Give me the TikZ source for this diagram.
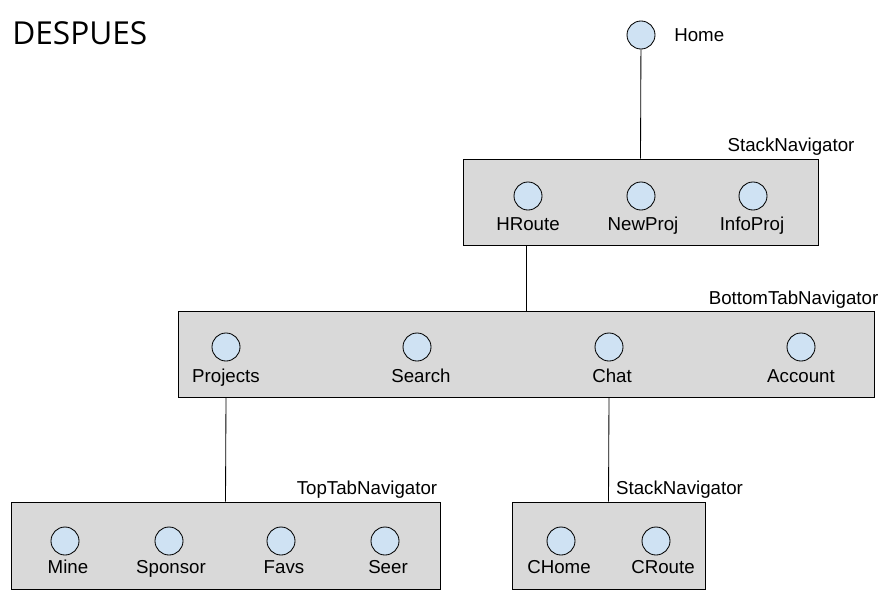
\documentclass[tikz,border=0pt]{standalone}
\usepackage{fontspec}
\setmainfont{Liberation Sans}
\newfontfamily\titlefont{Open Sans}
\usetikzlibrary{positioning}
\definecolor{boxgray}{HTML}{D9D9D9}
\definecolor{dotblue}{HTML}{CFE2F3}
\begin{document}
\begin{tikzpicture}[x=0.025cm, y=-0.025cm,
    navbox/.style={draw=black, fill=boxgray, line width=0.6pt, inner sep=0pt},
    screen/.style={circle, draw=black, fill=dotblue, line width=0.6pt, minimum size=0.7cm, inner sep=0pt},
    lbl/.style={font=\fontsize{13.3}{15}\selectfont, text height=9.5pt, text depth=0pt, inner sep=0pt},
    link/.style={draw=black, line width=0.6pt}]
        \useasboundingbox (0, 0) rectangle (895, 605);

        % Title
        \node[anchor=west, inner sep=0pt, font=\titlefont\fontsize{22.5}{25}\selectfont] (title) at (12, 33) {DESPUES};

        % Root screen
        \node[screen] (home) at (641, 35) {};
        \node[lbl, anchor=west] (homelbl) at (674, 35) {Home};

        % Navigator boxes
        \node[navbox, minimum width=8.875cm, minimum height=2.15cm] (stack) at (640.5, 202) {};
        \node[navbox, minimum width=17.375cm, minimum height=2.15cm] (bottomtab) at (526.5, 354) {};
        \node[navbox, minimum width=10.725cm, minimum height=2.175cm] (toptab) at (225.5, 545.5) {};
        \node[navbox, minimum width=4.825cm, minimum height=2.175cm] (chatstack) at (608.5, 545.5) {};

        % Navigator names
        \node[lbl] (stacklbl) at (791, 145) {StackNavigator};
        \node[lbl] (bottomtablbl) at (793.5, 298) {BottomTabNavigator};
        \node[lbl] (toptablbl) at (367, 488) {TopTabNavigator};
        \node[lbl] (chatstacklbl) at (679.5, 488) {StackNavigator};

        % StackNavigator screens
        \node[screen] (hroute) at (528, 196) {};
        \node[screen] (newproj) at (641, 196) {};
        \node[screen] (infoproj) at (753, 196) {};
        \node[lbl] (hroutelbl) at (528, 224) {HRoute};
        \node[lbl] (newprojlbl) at (643, 224) {NewProj};
        \node[lbl] (infoprojlbl) at (752, 224) {InfoProj};

        % BottomTabNavigator screens
        \node[screen] (projects) at (226, 347) {};
        \node[screen] (search) at (417, 347) {};
        \node[screen] (chat) at (609, 347) {};
        \node[screen] (account) at (801, 347) {};
        \node[lbl] (projectslbl) at (226, 376) {Projects};
        \node[lbl] (searchlbl) at (421, 376) {Search};
        \node[lbl] (chatlbl) at (612, 376) {Chat};
        \node[lbl] (accountlbl) at (801, 376) {Account};

        % TopTabNavigator screens
        \node[screen] (mine) at (65, 541) {};
        \node[screen] (sponsor) at (169, 541) {};
        \node[screen] (favs) at (281, 541) {};
        \node[screen] (seer) at (385, 541) {};
        \node[lbl] (minelbl) at (68, 567) {Mine};
        \node[lbl] (sponsorlbl) at (171, 567) {Sponsor};
        \node[lbl] (favslbl) at (284, 567) {Favs};
        \node[lbl] (seerlbl) at (388, 567) {Seer};

        % Chat StackNavigator screens
        \node[screen] (chome) at (561, 541) {};
        \node[screen] (croute) at (656, 541) {};
        \node[lbl] (chomelbl) at (559, 567) {CHome};
        \node[lbl] (croutelbl) at (663, 567) {CRoute};

        % Links
        \draw[link] (home) -- (stack.north);
        \draw[link] (stack.south -| bottomtab.north) -- (bottomtab.north);
        \draw[link] (projects |- bottomtab.south) -- (toptab.north);
        \draw[link] (chat |- bottomtab.south) -- (chatstack.north);
\end{tikzpicture}
\end{document}
